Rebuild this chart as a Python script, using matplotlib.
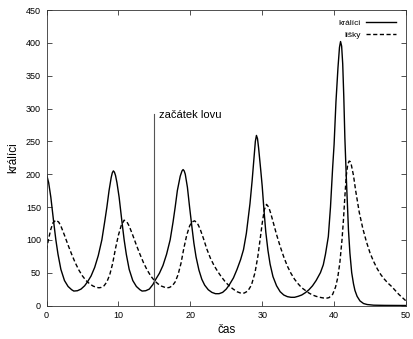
import matplotlib
matplotlib.use("Agg")
import matplotlib.pyplot as plt

plt.rcParams['font.family'] = ['Liberation Sans', 'DejaVu Sans']

# králíci (rabbits): time, value
rabbit_t = [0, 0.3, 0.6, 1.0, 1.3, 1.6, 2.0, 2.5, 3.0, 3.5, 3.8, 4.3, 4.8, 5.3, 5.7, 6.2, 6.7,
            7.2, 7.7, 8.1, 8.4, 8.7, 9.0, 9.15, 9.3, 9.45, 9.6, 9.8, 10.1, 10.5, 10.8, 11.1,
            11.5, 12.0, 12.5, 13.0, 13.3, 13.8, 14.3, 14.8, 15.2, 15.7, 16.2, 16.7, 17.2,
            17.6, 17.9, 18.2, 18.6, 18.85, 19.0, 19.15, 19.3, 19.6, 19.9, 20.2, 20.5, 20.8,
            21.2, 21.6, 22.0, 22.5, 23.0, 23.5, 24.0, 24.5, 25.0, 25.4, 26.0, 26.5, 27.0,
            27.4, 27.8, 28.3, 28.6, 28.9, 29.05, 29.2, 29.35, 29.5, 29.8, 30.0, 30.25, 30.5,
            30.8, 31.1, 31.5, 32.0, 32.5, 33.0, 33.5, 34.0, 34.5, 35.0, 35.5, 36.0, 36.5,
            37.0, 37.5, 38.1, 38.5, 38.8, 39.2, 39.5, 39.8, 40.0, 40.26, 40.54, 40.75, 40.9,
            41.05, 41.2, 41.35, 41.5, 41.7, 42.0, 42.2, 42.45, 42.7, 42.9, 43.2, 43.6, 44.1,
            44.6, 45.5, 47.0, 50.0]
rabbit_v = [200, 187, 165, 127, 100, 78, 55, 38, 29, 24, 22, 22.5, 25, 30, 36, 45, 58,
            76, 100, 128, 150, 175, 195, 202, 205, 203, 198, 187, 165, 127, 100, 78,
            55, 38, 29, 24, 22, 22.5, 25, 32, 40, 49, 61, 78, 100,
            127, 150, 175, 197, 205, 207, 205, 200, 180, 150, 122, 95, 74,
            54, 40, 31, 24, 20, 18, 18, 20, 25, 31, 42, 55, 70,
            85, 110, 155, 190, 230, 250, 259, 254, 240, 206, 182, 145, 112,
            84, 63, 44, 30, 21, 16, 13.5, 12.5, 12.5, 14, 16, 19.5, 24,
            30, 38, 50, 62, 78, 105, 150, 210, 245, 310, 362, 393, 402,
            395, 368, 318, 255, 195, 115, 80, 50, 33, 23, 14, 7, 3,
            1.5, 0.5, 0.2, 0]

# lišky (foxes): time, value
fox_t = [0, 0.3, 0.6, 0.9, 1.3, 1.7, 2.0, 2.5, 3.0, 3.5, 4.0, 4.5, 5.0, 5.5, 6.0, 6.5, 7.0,
         7.3, 7.6, 8.0, 8.4, 8.8, 9.2, 9.6, 10.0, 10.4, 10.8, 11.2, 11.5, 12.0, 12.5, 13.0,
         13.5, 14.0, 14.5, 15.0, 15.5, 16.0, 16.5, 16.8, 17.1, 17.5, 17.9, 18.3, 18.7, 19.1,
         19.5, 19.9, 20.2, 20.6, 21.0, 21.35, 21.8, 22.3, 22.8, 23.3, 23.8, 24.3, 24.8,
         25.3, 25.9, 26.5, 27.1, 27.5, 28.0, 28.5, 29.0, 29.4, 29.8, 30.0, 30.3, 30.6, 30.9,
         31.2, 31.6, 32.0, 32.5, 33.0, 33.5, 34.0, 34.5, 35.0, 35.5, 36.0, 36.5, 37.0, 37.5,
         38.0, 38.5, 38.9, 39.3, 39.8, 40.2, 40.5, 40.8, 41.1, 41.3, 41.5, 41.7, 41.9, 42.1,
         42.25, 42.4, 42.7, 43.0, 43.5, 44.0, 44.5, 45.0, 45.5, 46.0, 46.5, 47.0, 47.5, 48.0,
         48.5, 49.0, 49.5, 50.0]
fox_v = [85, 102, 116, 126, 130, 127, 121, 107, 92, 78, 65, 54, 45, 38, 33, 29.5, 27.5,
         27, 27.5, 30, 36, 47, 64, 87, 107, 122, 130, 127, 121, 107, 92, 78,
         65, 54, 45, 38, 33, 29.5, 27.5, 27, 27.5, 30, 36, 47, 64, 87,
         107, 121, 127, 129, 125, 117, 103, 86, 72, 61, 52, 44, 37,
         31, 25.5, 21, 18.5, 19, 22, 31, 50, 75, 108, 125, 146, 154, 150,
         140, 124, 108, 90, 74, 60, 49, 40, 33, 27, 23, 19, 16, 14,
         12.5, 11.5, 11, 12, 17, 28, 42, 65, 100, 130, 166, 198, 215, 220,
         219, 214, 198, 175, 142, 117, 97, 80, 67, 56, 47, 40, 34, 29,
         23, 17, 12, 7]

x_ticks = [0, 10, 20, 30, 40, 50]
y_ticks = [0, 50, 100, 150, 200, 250, 300, 350, 400, 450]
hunt_start = 15
hunt_line_top = 292
labels = ["králíci", "lišky"]

fig = plt.figure(figsize=(4.13, 3.39), dpi=100)
ax = fig.add_axes([0.1126, 0.0988, 0.983 - 0.1126, 0.9705 - 0.0988])

ax.plot(rabbit_t, rabbit_v, color='black', lw=1.0, label=labels[0])
ax.plot(fox_t, fox_v, color='black', lw=1.0, ls=(0, (3, 1.8)), label=labels[1])
ax.plot([hunt_start, hunt_start], [0, hunt_line_top], color='#555555', lw=0.8)
ax.text(hunt_start + 0.6, 285, "začátek lovu", fontsize=8, ha='left', va='baseline')

ax.set_xlim(0, 50)
ax.set_ylim(0, 450)
ax.set_xticks(x_ticks)
ax.set_yticks(y_ticks)
ax.tick_params(direction='in', length=3.5, width=0.6, labelsize=6.5,
               top=True, right=True, pad=4, colors='#333333', labelcolor='black')
for s in ax.spines.values():
    s.set_linewidth(0.6)
    s.set_color('#333333')

ax.set_xlabel("čas", fontsize=8.5, labelpad=3)
ax.set_ylabel("králíci", fontsize=8.5, labelpad=5)

leg = ax.legend(loc='upper right', bbox_to_anchor=(0.985, 0.985), frameon=False,
                markerfirst=False, fontsize=6, handlelength=3.6, handletextpad=0.6,
                labelspacing=0.45, borderaxespad=0.2)

fig.savefig("out.png", dpi=100)
